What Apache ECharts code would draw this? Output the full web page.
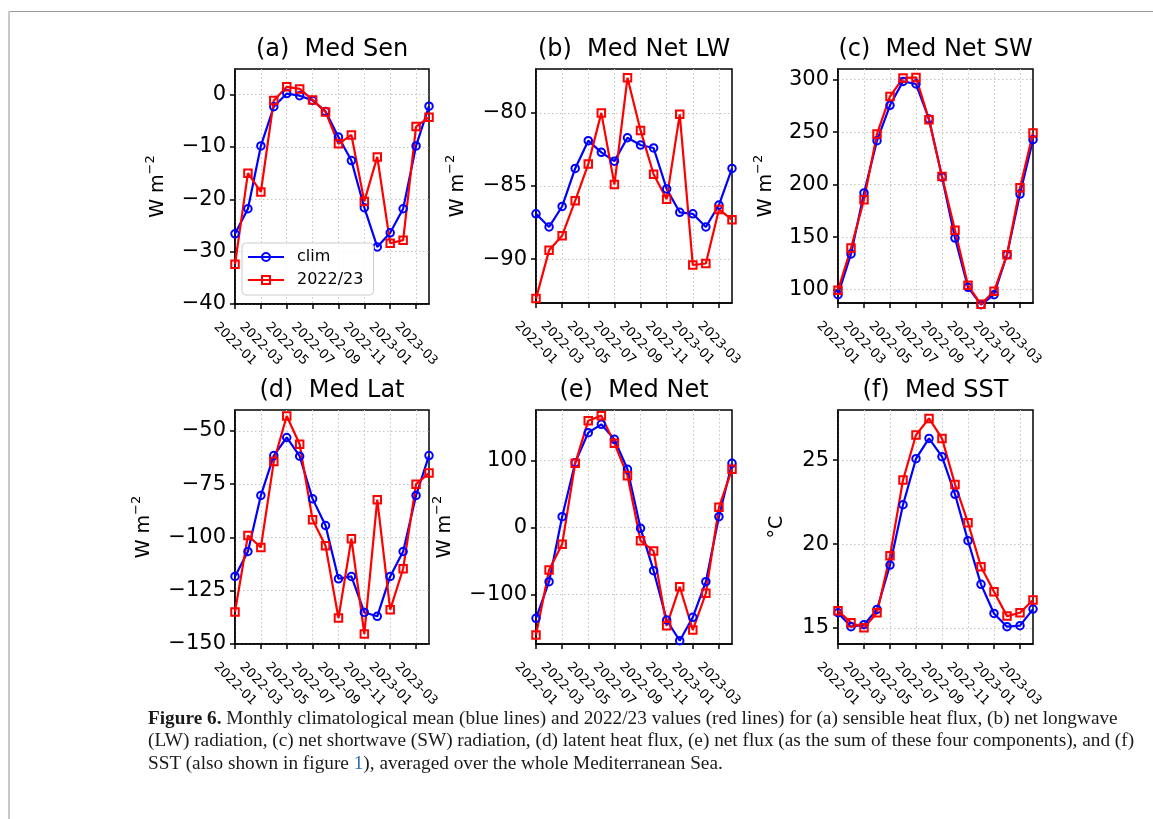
<!DOCTYPE html>
<html>
<head>
<meta charset="utf-8">
<title>Figure 6</title>
<script src="https://cdn.jsdelivr.net/npm/echarts@6/dist/echarts.min.js"></script>
<style>
    html, body { margin: 0; padding: 0; background: #fff; }
    #wrap { position: relative; width: 1153px; height: 819px; overflow: hidden; }
    #main { position: absolute; left: 0; top: 0; width: 1153px; height: 819px; }
    #frameTop { position: absolute; left: 8px; top: 11px; right: 0; height: 1px; background: #9a9a9a; }
    #frameLeft { position: absolute; left: 8px; top: 11px; bottom: 0; width: 2px; background: #c8c8c8; }
    .cap { position: absolute; left: 148px; font-family: 'Liberation Serif', serif; font-size: 16.5px;
           color: #1a1a1a; white-space: nowrap; line-height: 20px; }
    .cap a { color: #2d6bb5; }
</style>
</head>
<body>
<div id="wrap">
    <div id="frameTop"></div>
    <div id="frameLeft"></div>
    <div id="main"></div>
    <div class="cap" id="cap1" style="top:708px"><b>Figure 6.</b> Monthly climatological mean (blue lines) and 2022/23 values (red lines) for (a) sensible heat flux, (b) net longwave</div>
    <div class="cap" id="cap2" style="top:730px">(LW) radiation, (c) net shortwave (SW) radiation, (d) latent heat flux, (e) net flux (as the sum of these four components), and (f)</div>
    <div class="cap" id="cap3" style="top:753px">SST (also shown in figure <a>1</a>), averaged over the whole Mediterranean Sea.</div>
</div>
<script>
    // months 2022-01 .. 2023-04
    const monthLabels = ['2022-01', '2022-02', '2022-03', '2022-04', '2022-05', '2022-06', '2022-07', '2022-08',
        '2022-09', '2022-10', '2022-11', '2022-12', '2023-01', '2023-02', '2023-03', '2023-04'];
    const monthTicks = [0, 2, 4, 6, 8, 10, 12, 14];

    // (a) sensible heat flux
    const senClim = [-26.6, -21.8, -9.8, -2.3, 0.2, -0.2, -1.1, -3.2, -8.1, -12.6, -21.6, -29.1, -26.4, -21.8, -9.8, -2.2];
    const sen2223 = [-32.4, -15.0, -18.6, -1.1, 1.5, 1.1, -1.0, -3.3, -9.4, -7.7, -20.4, -11.9, -28.4, -27.8, -6.1, -4.3];
    const senTicks = [-40, -30, -20, -10, 0];

    // (b) net longwave
    const lwClim = [-86.9, -87.8, -86.4, -83.8, -81.9, -82.7, -83.3, -81.7, -82.2, -82.4, -85.2, -86.8, -86.9, -87.8, -86.3, -83.8];
    const lw2223 = [-92.7, -89.4, -88.4, -86.0, -83.5, -80.0, -84.9, -77.6, -81.2, -84.2, -85.9, -80.1, -90.4, -90.3, -86.6, -87.3];
    const lwTicks = [-90, -85, -80];

    // (c) net shortwave
    const swClim = [95.2, 134.0, 192.1, 241.9, 275.6, 298.4, 295.9, 262.5, 207.3, 149.2, 102.2, 85.7, 95.2, 133.3, 191.1, 242.9];
    const sw2223 = [99.4, 139.7, 185.7, 248.3, 284.1, 301.6, 302.2, 261.9, 207.9, 156.5, 104.1, 86.0, 98.4, 133.3, 197.1, 249.2];
    const swTicks = [100, 150, 200, 250, 300];

    // (d) latent heat flux
    const latClim = [-118.3, -106.6, -80.3, -61.6, -53.1, -61.9, -81.9, -94.4, -119.4, -118.3, -135.2, -137.0, -118.3, -106.6, -80.3, -61.6];
    const lat2223 = [-135.0, -99.1, -104.7, -64.4, -43.0, -56.3, -91.7, -103.9, -137.8, -100.6, -145.3, -82.3, -133.9, -114.7, -75.0, -69.8];
    const latTicks = [-150, -125, -100, -75, -50];

    // (e) net flux
    const netClim = [-135.8, -81.1, 15.9, 96.5, 141.3, 153.7, 131.3, 86.6, -1.5, -64.7, -138.3, -169.2, -134.3, -81.1, 15.9, 95.5];
    const net2223 = [-160.7, -63.7, -25.4, 95.5, 159.2, 166.7, 125.4, 77.1, -19.9, -35.3, -146.8, -88.6, -153.2, -98.5, 29.9, 86.6];
    const netTicks = [-100, 0, 100];

    // (f) SST
    const sstClim = [15.91, 15.08, 15.20, 16.11, 18.75, 22.34, 25.08, 26.29, 25.20, 22.96, 20.20, 17.60, 15.87, 15.08, 15.14, 16.13];
    const sst2223 = [16.03, 15.32, 15.02, 15.91, 19.31, 23.81, 26.49, 27.48, 26.29, 23.55, 21.27, 18.65, 17.16, 15.71, 15.91, 16.67];
    const sstTicks = [15, 20, 25];

    const FONT = 'DejaVu Sans';
    const FLUX = '{n|W m}{s|\u22122}';

    const panels = [
        {title: '(a)  Med Sen', clim: senClim, obs: sen2223, ticks: senTicks, min: -40, max: 4.9, unit: FLUX, gap: 67, box: [235, 69, 194, 235]},
        {title: '(b)  Med Net LW', clim: lwClim, obs: lw2223, ticks: lwTicks, min: -93, max: -77, unit: FLUX, gap: 68, box: [536, 69, 196, 234]},
        {title: '(c)  Med Net SW', clim: swClim, obs: sw2223, ticks: swTicks, min: 87.3, max: 310.2, unit: FLUX, gap: 62, box: [838, 69, 195, 234]},
        {title: '(d)  Med Lat', clim: latClim, obs: lat2223, ticks: latTicks, min: -150, max: -40.2, unit: FLUX, gap: 81, box: [235, 410, 194, 234]},
        {title: '(e)  Med Net', clim: netClim, obs: net2223, ticks: netTicks, min: -174.1, max: 175.1, unit: FLUX, gap: 81, box: [536, 410, 196, 234]},
        {title: '(f)  Med SST', clim: sstClim, obs: sst2223, ticks: sstTicks, min: 14.05, max: 27.98, unit: '{n|\u00b0C}', gap: 51, box: [838, 410, 195, 234]}
    ];

    const blackLine = {color: '#000', width: 1.5};
    const gridLine = {color: '#c4c4c4', width: 1, type: [1.5, 2.5]};

    function mkSeries(name, vals, k, color, symbol) {
        return {
            name: name,
            type: 'line',
            xAxisIndex: k,
            yAxisIndex: k,
            data: vals.map((v, i) => [i, v]),
            symbol: symbol,
            symbolSize: 7.5,
            clip: false,
            lineStyle: {color: color, width: 2.2},
            itemStyle: {color: 'rgba(255,255,255,0)', borderColor: color, borderWidth: 2},
            emphasis: {disabled: true}
        };
    }

    const chart = echarts.init(document.getElementById('main'));
    const option = {
        animation: false,
        backgroundColor: 'transparent',
        title: panels.map(p => ({
            text: p.title,
            left: p.box[0] + p.box[2] / 2,
            top: p.box[1] - 31,
            textAlign: 'center',
            padding: 0,
            textStyle: {fontFamily: FONT, fontSize: 24, fontWeight: 'normal', color: '#000'}
        })),
        legend: {
            data: ['clim', '2022/23'],
            orient: 'vertical',
            left: 242,
            top: 243,
            itemWidth: 36,
            itemHeight: 10,
            itemGap: 7,
            padding: [6, 10, 7, 5],
            selectedMode: false,
            backgroundColor: 'rgba(255,255,255,0.85)',
            borderColor: '#cccccc',
            borderWidth: 1,
            borderRadius: 4,
            textStyle: {fontFamily: FONT, fontSize: 16, color: '#000', padding: [0, 0, 0, 8]}
        },
        grid: panels.map(p => ({
            left: p.box[0], top: p.box[1], width: p.box[2], height: p.box[3],
            show: true, borderColor: '#000', borderWidth: 1.5, backgroundColor: 'transparent'
        })),
        xAxis: panels.map((p, k) => ({
            gridIndex: k,
            type: 'value',
            min: 0,
            max: 15,
            interval: 2,
            axisLine: {show: true, onZero: false, lineStyle: blackLine},
            axisTick: {show: true, length: 5, customValues: monthTicks, lineStyle: blackLine},
            axisLabel: {
                customValues: monthTicks,
                rotate: -45,
                align: 'center',
                verticalAlign: 'middle',
                margin: 40,
                fontFamily: FONT,
                fontSize: 13,
                color: '#000',
                formatter: v => monthLabels[v]
            },
            splitLine: {show: true, lineStyle: gridLine}
        })),
        yAxis: panels.map((p, k) => ({
            gridIndex: k,
            type: 'value',
            min: p.min,
            max: p.max,
            name: p.unit,
            nameLocation: 'middle',
            nameRotate: 90,
            nameGap: p.gap,
            nameTextStyle: {
                color: '#000',
                rich: {
                    n: {fontFamily: FONT, fontSize: 19, color: '#000', lineHeight: 24, verticalAlign: 'bottom'},
                    s: {fontFamily: FONT, fontSize: 13, color: '#000', lineHeight: 13, verticalAlign: 'top'}
                }
            },
            axisLine: {show: true, onZero: false, lineStyle: blackLine},
            axisTick: {show: true, length: 5, customValues: p.ticks, lineStyle: blackLine},
            axisLabel: {
                customValues: p.ticks,
                margin: 9,
                fontFamily: FONT,
                fontSize: 21,
                color: '#000',
                formatter: v => String(v).replace('-', '\u2212')
            },
            splitLine: {show: true, lineStyle: gridLine}
        })),
        series: []
    };
    panels.forEach((p, k) => {
        option.series.push(mkSeries('clim', p.clim, k, '#0000ff', 'circle'));
        option.series.push(mkSeries('2022/23', p.obs, k, '#ff0000', 'rect'));
    });
    chart.setOption(option);

    // fit caption lines to the reference line length
    const capW = document.getElementById('cap2').getBoundingClientRect().width;
    const capFs = 16.5 * 987 / capW;
    ['cap1', 'cap2', 'cap3'].forEach(id => {
        document.getElementById(id).style.fontSize = capFs + 'px';
    });
</script>
</body>
</html>
